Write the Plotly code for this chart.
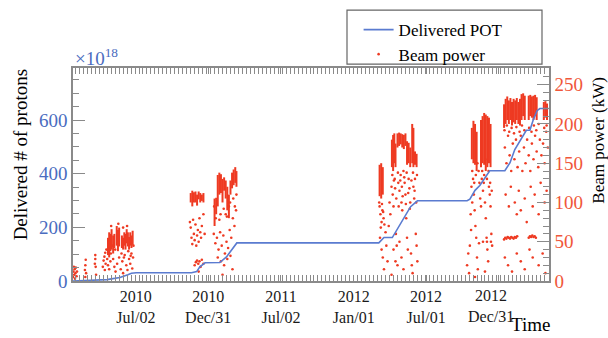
import pandas as pd
import plotly.graph_objects as go

# ---- data (days counted from 2010-01-01) ----
pot_day = [24, 95, 110, 117, 142, 162, 171, 183, 322, 335, 343, 356, 376, 393, 410, 423, 436,
           793, 806, 827, 839, 856, 873, 890, 1015, 1022, 1035, 1047, 1055, 1072, 1110, 1123,
           1135, 1152, 1164, 1173, 1181, 1191, 1198, 1220]
pot_e18 = [0, 2, 5, 7, 13, 23, 29, 31, 31, 35, 53, 68, 69, 69, 90, 114, 142,
           142, 162, 162, 193, 235, 277, 299, 299, 305, 338, 356, 375, 411, 411, 441,
           490, 532, 562, 562, 599, 635, 643, 643]

# dense beam-power bands: day, low kW, high kW
band_day = [112, 115, 118, 121, 125, 128, 134, 137, 140, 147, 150, 153, 156, 159, 162, 165, 168, 171, 174,
            320, 324, 328, 332, 336, 340, 344, 348, 352,
            380, 384, 388, 392, 396, 400, 404, 408, 412, 416, 420, 424, 428, 432, 435,
            795, 799, 803, 826, 829, 832, 835, 840, 844, 848, 852, 856, 860, 864, 868, 872, 877, 880, 884, 888,
            1027, 1031, 1035, 1039, 1050, 1054, 1058, 1062, 1066, 1070, 1074,
            1108, 1112, 1116, 1120, 1124, 1128, 1132, 1136, 1140, 1144, 1148, 1152, 1156, 1160,
            1170, 1174, 1178, 1182, 1186, 1190, 1208, 1212, 1216]
band_lo = [33, 30, 38, 40, 35, 42, 45, 38, 44, 42, 40, 45, 40, 48, 44, 40, 45, 42, 46,
           100, 95, 100, 100, 96, 104, 100, 102, 100,
           70, 85, 95, 110, 112, 100, 115, 105, 90, 80, 110, 118, 122, 125, 120,
           108, 105, 110, 145, 140, 150, 145, 170, 172, 174, 170, 168, 172, 148, 150, 145, 150, 145, 148, 145,
           155, 150, 148, 140, 145, 150, 148, 140, 145, 150, 145,
           195, 200, 205, 200, 205, 198, 202, 200, 205, 200, 198, 205, 210, 205,
           205, 210, 208, 205, 210, 205, 205, 208, 205]
band_hi = [55, 62, 60, 66, 58, 60, 70, 65, 68, 58, 55, 62, 60, 66, 62, 56, 62, 58, 64,
           112, 115, 113, 114, 110, 114, 112, 110, 112,
           105, 106, 135, 138, 136, 130, 132, 128, 120, 110, 128, 138, 142, 145, 140,
           148, 150, 145, 180, 186, 188, 175, 188, 189, 188, 187, 186, 188, 178, 176, 170, 200, 195, 165, 162,
           195, 204, 200, 190, 205, 210, 214, 212, 210, 208, 200,
           225, 232, 235, 230, 233, 228, 232, 230, 233, 228, 232, 238, 239, 236,
           236, 237, 235, 236, 237, 234, 228, 229, 226]

# scattered beam-power readings: day, kW
pt_day = [24, 25, 26, 27, 28, 29, 30, 31, 33, 34, 54, 55, 56, 57, 55, 79, 80, 81, 82, 80,
          99, 101, 103, 104, 106, 105, 112, 115, 118, 125, 128, 131, 135, 140, 144, 148, 150, 154,
          158, 161, 165, 168, 171, 173, 175, 176, 120, 138, 150, 160,
          108, 110, 119, 124, 130, 146, 152, 163, 169,
          318, 320, 322, 324, 326, 328, 330, 332, 334, 336, 338, 340, 342, 344, 346, 348, 352, 355,
          330, 333, 336, 339, 342, 345, 348, 340, 352,
          378, 382, 386, 390, 394, 398, 402, 406, 410, 414, 418, 422, 426, 430, 434,
          388, 396, 404, 412, 420, 400, 425, 392, 408, 416,
          379, 383, 395, 403, 411, 419, 427, 431, 435,
          795, 797, 800, 802, 798, 805, 796, 800, 803, 806, 810, 812, 815, 818, 820, 822, 825, 828,
          830, 833, 836, 838, 840, 842, 845, 848, 850, 852, 855, 858, 860, 862, 864, 866, 868, 870,
          872, 874, 876, 878, 880, 882, 884, 886, 888, 890, 845, 850, 855, 830, 825, 835,
          827, 831, 834, 837, 841, 843, 847, 851, 853, 857, 861, 863, 867, 871, 875, 879, 883, 887, 889,
          794, 801, 804, 807,
          1015, 1018, 1020, 1022, 1024, 1025, 1026, 1028, 1030, 1032, 1034, 1036, 1038, 1040, 1042,
          1044, 1046, 1048, 1050, 1052, 1055, 1058, 1060, 1062, 1064, 1066, 1068, 1070, 1072, 1074,
          1076, 1078, 1060, 1035, 1045, 1055, 1065, 1075,
          1028, 1033, 1037, 1041, 1053, 1057, 1061, 1065, 1069, 1073, 1077,
          1110, 1114, 1118, 1122, 1126, 1130, 1134, 1138, 1142, 1146, 1150, 1154, 1158, 1162, 1166,
          1170, 1174, 1178, 1182, 1186, 1190, 1194, 1198, 1202, 1206, 1210, 1214, 1218,
          1109, 1115, 1121, 1127, 1133, 1139, 1147, 1153, 1159, 1171, 1177, 1183, 1189, 1195, 1209, 1215,
          1112, 1120, 1125, 1135, 1140, 1145, 1150, 1160, 1165, 1175, 1180, 1185, 1195, 1200, 1210, 1215,
          1108, 1111, 1114, 1117, 1120, 1123, 1126, 1129, 1132, 1135, 1138, 1141,
          1170, 1173, 1176, 1179, 1182, 1185, 1188,
          1110, 1118, 1128, 1140, 1150, 1160, 1172, 1180, 1195, 1205, 1212]
pt_kw = [5, 12, 18, 8, 15, 3, 10, 17, 6, 12, 14, 20, 27, 10, 5, 22, 28, 18, 8, 33,
         18, 26, 31, 14, 22, 36, 20, 15, 25, 28, 18, 12, 22, 30, 15, 25, 10, 33,
         20, 14, 28, 22, 35, 16, 30, 45, 70, 73, 68, 70,
         40, 28, 35, 45, 40, 35, 30, 38, 32,
         75, 68, 55, 47, 78, 60, 52, 72, 45, 58, 65, 50, 80, 62, 55, 70, 85, 60,
         20, 24, 26, 22, 25, 18, 27, 12, 22,
         60, 48, 55, 40, 62, 45, 58, 35, 50, 42, 65, 55, 80, 70, 90,
         30, 25, 20, 28, 32, 8, 15, 78, 85, 95,
         95, 80, 85, 92, 82, 100, 105, 95, 110,
         95, 85, 75, 90, 68, 80, 55, 40, 30, 15, 62, 45, 25, 70, 100, 85, 120, 110,
         95, 130, 60, 45, 20, 125, 115, 135, 100, 90, 140, 125, 110, 80, 55, 40, 130, 118,
         100, 35, 20, 10, 120, 105, 130, 60, 45, 25, 50, 30, 15, 40, 8, 25,
         135, 128, 118, 105, 138, 95, 128, 120, 108, 132, 98, 138, 112, 92, 128, 138, 115, 100, 135,
         100, 98, 88, 72,
         20, 35, 10, 45, 85, 65, 120, 100, 130, 110, 90, 70, 55, 30, 15,
         140, 125, 105, 95, 130, 115, 135, 100, 80, 55, 40, 25, 120, 110, 95,
         60, 45, 12, 5, 48, 50, 50, 50,
         140, 125, 135, 150, 140, 125, 155, 130, 140, 125, 115,
         170, 150, 185, 160, 140, 175, 155, 180, 145, 165, 185, 140, 170, 150, 180,
         160, 140, 175, 155, 185, 165, 145, 180, 160, 175, 150, 190, 170,
         192, 198, 190, 195, 188, 196, 190, 198, 192, 195, 190, 198, 192, 200, 195, 198,
         110, 95, 120, 100, 85, 115, 90, 105, 75, 120, 95, 110, 85, 125, 100, 115,
         53, 55, 54, 56, 55, 54, 56, 55, 54, 56, 55, 57,
         55, 57, 56, 58, 56, 57, 55,
         30, 20, 12, 35, 25, 15, 40, 30, 20, 35, 10]

x_tick_dates = ["2010-07-02", "2010-12-31", "2011-07-02", "2012-01-01", "2012-07-01", "2012-12-31"]
x_tick_text = ["2010<br>Jul/02", "2010<br>Dec/31", "2011<br>Jul/02", "2012<br>Jan/01",
               "2012<br>Jul/01", "2012<br>Dec/31"]
pot_ticks = [0, 200, 400, 600]
power_ticks = [0, 50, 100, 150, 200, 250]

# ---- helpers ----
origin = pd.Timestamp("2010-01-01")
def to_date(days):
    return [origin + pd.Timedelta(days=d) for d in days]

RED = "#ee3a22"
BLUE = "#5a7bd0"
GRAY = "#8a8a8a"
FONT = "Liberation Serif"

bx, by = [], []
for d, lo, hi in zip(to_date(band_day), band_lo, band_hi):
    bx += [d, d, None]
    by += [lo, hi, None]

fig = go.Figure()
fig.add_trace(go.Scatter(x=bx, y=by, mode="lines", line=dict(color=RED, width=2.0),
                         yaxis="y", showlegend=False, hoverinfo="skip"))
fig.add_trace(go.Scatter(x=to_date(pt_day), y=pt_kw, mode="markers",
                         marker=dict(color=RED, size=2.6), yaxis="y", name="Beam power",
                         legend="legend2"))
fig.add_trace(go.Scatter(x=to_date(pot_day), y=pot_e18, mode="lines",
                         line=dict(color=BLUE, width=1.6), yaxis="y2", name="Delivered POT",
                         legend="legend"))

# the last date label is drawn offset to the left (as in the original), others as tick labels
tick_text_shown = x_tick_text[:-1] + [""]
last_label = dict(text=x_tick_text[-1], xref="x", yref="paper", x=x_tick_dates[-1], xshift=-8,
                  y=(283 - 288) / 217, xanchor="center", yanchor="top", showarrow=False,
                  borderpad=0, font=dict(size=16, family=FONT, color="#1a1a1a"))

leg_common = dict(xanchor="left", yanchor="top", bgcolor="rgba(0,0,0,0)",
                  font=dict(size=17, family=FONT, color="black"), itemwidth=30)
fig.update_layout(
    width=608, height=338,
    margin=dict(l=73, r=59, t=66, b=55),
    paper_bgcolor="white", plot_bgcolor="white",
    font=dict(family=FONT, color="black"),
    legend=dict(x=0.60, y=(283 - 9) / 217, **leg_common),
    legend2=dict(x=0.60, y=(283 - 34) / 217, **leg_common),
    xaxis=dict(type="date", range=["2010-01-25", "2013-05-06"],
               tickvals=x_tick_dates, ticktext=tick_text_shown,
               ticks="inside", ticklen=6, tickcolor=GRAY, tickwidth=1,
               showline=True, linecolor=GRAY, linewidth=1.5, mirror="allticks",
               showgrid=False, zeroline=False,
               tickfont=dict(size=16, family=FONT, color="#1a1a1a"),
               minor=dict(dtick=10 * 86400000, tick0="2010-01-01", ticks="inside",
                          ticklen=3, tickcolor=GRAY)),
    yaxis=dict(range=[0, 271.25], side="right", tickvals=power_ticks,
               ticks="inside", ticklen=12, tickcolor=GRAY, tickwidth=1,
               showline=True, linecolor=GRAY, linewidth=1.5,
               showgrid=False, zeroline=False,
               tickfont=dict(size=19, family=FONT, color="#f0573a"),
               minor=dict(dtick=10, ticks="inside", ticklen=6, tickcolor=GRAY)),
    yaxis2=dict(range=[0, 794], side="left", overlaying="y", tickvals=pot_ticks,
                ticks="inside", ticklen=12, tickcolor=GRAY, tickwidth=1,
                showline=True, linecolor=GRAY, linewidth=1.5,
                showgrid=False, zeroline=False,
                tickfont=dict(size=19, family=FONT, color="#4a6cc0"),
                minor=dict(dtick=50, ticks="inside", ticklen=6, tickcolor=GRAY)),
    shapes=[dict(type="rect", xref="paper", yref="paper",
                 x0=(347 - 73) / 476, x1=(542 - 73) / 476,
                 y0=(283 - 62) / 217, y1=(283 - 7) / 217,
                 line=dict(color="#666", width=1.2), fillcolor="rgba(0,0,0,0)")],
    annotations=[
        last_label,
        dict(text="Delivered # of protons", textangle=-90, xref="paper", yref="paper",
             x=(20 - 73) / 476, y=(283 - 155) / 217, xanchor="center", yanchor="middle",
             showarrow=False, font=dict(size=19, family=FONT, color="black")),
        dict(text="Beam power (kW)", textangle=-90, xref="paper", yref="paper",
             x=(599 - 73) / 476, y=(283 - 140) / 217, xanchor="center", yanchor="middle",
             showarrow=False, font=dict(size=17, family=FONT, color="black")),
        dict(text="×10<sup>18</sup>", xref="paper", yref="paper",
             x=0, y=(283 - 55) / 217, xanchor="left", yanchor="middle",
             showarrow=False, font=dict(size=19, family=FONT, color="#4a6cc0")),
        dict(text="Time", xref="paper", yref="paper",
             x=(530 - 73) / 476, y=(283 - 327) / 217, xanchor="center", yanchor="middle",
             showarrow=False, font=dict(size=19, family=FONT, color="black")),
    ],
)

fig.write_html("out.html")
